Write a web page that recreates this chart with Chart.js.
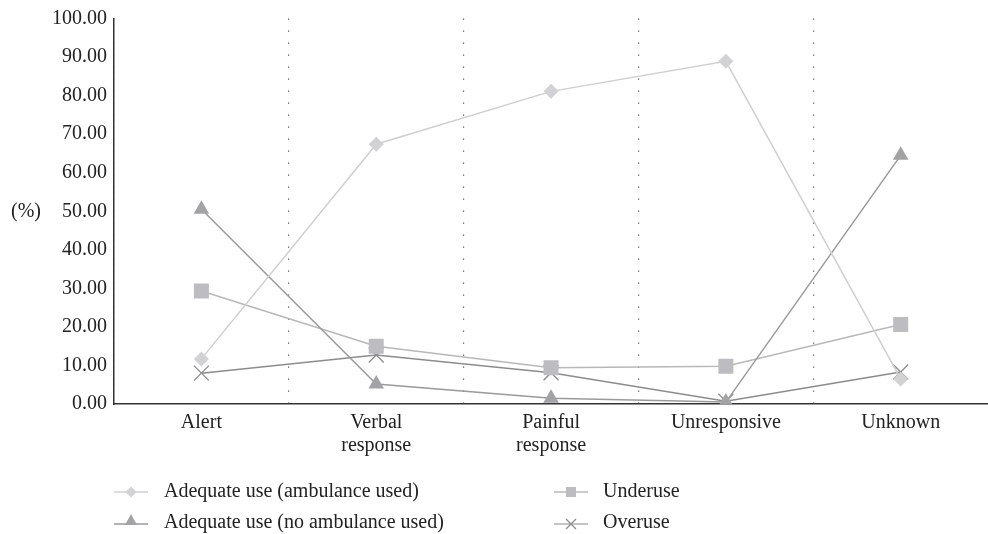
<!DOCTYPE html>
<html><head><meta charset="utf-8">
<script src="https://cdn.jsdelivr.net/npm/chart.js@4.4.1/dist/chart.umd.min.js"></script>
<style>
html,body{margin:0;padding:0;background:#fff;overflow:hidden;width:988px;height:534px;}
#wrap{position:absolute;left:0;top:0;width:1000px;height:534px;}
.t{position:absolute;font-family:"Liberation Serif","DejaVu Serif",serif;font-size:20px;color:#222;white-space:nowrap;line-height:24px;}
.m{position:absolute;}
</style></head>
<body>
<div id="wrap"><canvas id="c" width="1000" height="534"></canvas></div>
<div class="t" style="left:11px;top:198px;">(%)</div>
<svg class="m" style="left:113px;top:482px" width="36" height="20"><line x1="1" y1="10" x2="35" y2="10" stroke="#d0d0d0" stroke-width="1.5"/><polygon points="18,4.5 23.5,10 18,15.5 12.5,10" fill="#d2d2d4"/></svg>
<div class="t" style="left:164px;top:478px;">Adequate use (ambulance used)</div>
<svg class="m" style="left:113px;top:511px" width="36" height="20"><line x1="1" y1="13" x2="35" y2="13" stroke="#9a9a9a" stroke-width="1.5"/><polygon points="18,3 24,14 12,14" fill="#a3a3a6"/></svg>
<div class="t" style="left:164px;top:509px;">Adequate use (no ambulance used)</div>
<svg class="m" style="left:553px;top:482px" width="36" height="20"><line x1="1" y1="10" x2="35" y2="10" stroke="#b8b8b8" stroke-width="1.5"/><rect x="13" y="5" width="10" height="10" fill="#bdbdc1"/></svg>
<div class="t" style="left:603px;top:478px;">Underuse</div>
<svg class="m" style="left:553px;top:514px" width="36" height="20"><line x1="1" y1="10" x2="35" y2="10" stroke="#8c8c8c" stroke-width="1.2"/><line x1="13" y1="5" x2="23" y2="15" stroke="#8c8c8c" stroke-width="1.2"/><line x1="13" y1="15" x2="23" y2="5" stroke="#8c8c8c" stroke-width="1.2"/></svg>
<div class="t" style="left:603px;top:509px;">Overuse</div>
<script>
const categories = ["Alert", ["Verbal", "response"], ["Painful", "response"], "Unresponsive", "Unknown"];
const adequateAmbulance = [11.7, 67.4, 81.1, 88.9, 6.5];
const adequateNoAmbulance = [50.5, 5.2, 1.5, 0.5, 64.5];
const underuse = [29.3, 15.0, 9.4, 9.8, 20.6];
const overuse = [8.0, 12.7, 8.1, 0.7, 8.3];
const yTicks = [0, 10, 20, 30, 40, 50, 60, 70, 80, 90, 100];

const font = {family: '"Liberation Serif","DejaVu Serif",serif', size: 20, lineHeight: 1.15};
new Chart(document.getElementById('c'), {
  type: 'line',
  data: {
    labels: categories,
    datasets: [
      {label: 'Adequate use (ambulance used)', data: adequateAmbulance, borderColor: '#cfcfcf', backgroundColor: '#d2d2d4', borderWidth: 1.5, pointStyle: 'rectRot', pointRadius: 7.5, pointBorderWidth: 0, tension: 0},
      {label: 'Adequate use (no ambulance used)', data: adequateNoAmbulance, borderColor: '#9a9a9a', backgroundColor: '#a3a3a6', borderWidth: 1.5, pointStyle: 'triangle', pointRadius: 9, pointBorderWidth: 0, tension: 0},
      {label: 'Underuse', data: underuse, borderColor: '#b8b8b8', backgroundColor: '#bdbdc1', borderWidth: 1.5, pointStyle: 'rect', pointRadius: 10.6, pointBorderWidth: 0, tension: 0},
      {label: 'Overuse', data: overuse, borderColor: '#8c8c8c', backgroundColor: '#8c8c8c', pointBorderColor: '#8c8c8c', borderWidth: 1.5, pointStyle: 'crossRot', pointRadius: 10.6, pointBorderWidth: 1.3, tension: 0}
    ]
  },
  options: {
    responsive: false,
    animation: false,
    layout: {padding: {top: 18, right: 6, left: 0, bottom: 0}},
    plugins: {legend: {display: false}, tooltip: {enabled: false}},
    scales: {
      x: {
        offset: true,
        grid: {offset: true, display: true, drawTicks: false, color: '#555', lineWidth: 1.2},
        border: {display: true, color: '#333', width: 1.5, dash: [1.2, 10.8]},
        ticks: {font: font, color: '#222', padding: 7, maxRotation: 0, autoSkip: false},
        afterFit: s => { s.height = 130; }
      },
      y: {
        min: 0, max: 100,
        afterBuildTicks: s => { s.ticks = yTicks.map(v => ({value: v})); },
        grid: {display: false, drawTicks: false},
        border: {display: true, color: '#333', width: 1.5},
        ticks: {font: font, color: '#222', padding: 7, callback: v => Number(v).toFixed(2)},
        afterFit: s => { s.width = 114; }
      }
    }
  }
});
</script>
</body></html>
